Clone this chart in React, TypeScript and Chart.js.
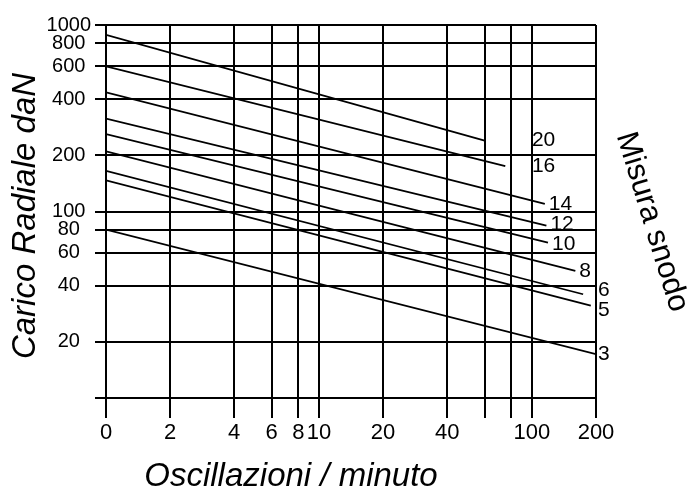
import React, { useEffect, useRef } from 'react';
import { Chart, registerables } from 'chart.js';

Chart.register(...registerables);

// Size of joint (series labels)
const sizeLabels = ['20', '16', '14', '12', '10', '8', '6', '5', '3'];
// Oscillations / minute at start and end of each line
const startOscill = [1, 1, 1, 1, 1, 1, 1, 1, 1];
const endOscill = [60, 75, 115, 117, 119, 160, 174, 189, 200];
// Radial load daN at start and end of each line
const startLoad = [885, 600, 435, 315, 260, 210, 165, 147, 80];
const endLoad = [240, 175, 110, 84, 68, 48, 36, 31.3, 17.2];

const xTickValues = [1, 2, 4, 6, 8, 10, 20, 40, 60, 80, 100, 200];
const xTickLabels = ['0', '2', '4', '6', '8', '10', '20', '40', '', '', '100', '200'];
const yTickValues = [10, 20, 40, 60, 80, 100, 200, 400, 600, 800, 1000];
const yTickLabels = ['', '20', '40', '60', '80', '100', '200', '400', '600', '800', '1000'];

const xTitle = 'Oscillazioni / minuto';
const yTitle = 'Carico Radiale daN';
const seriesTitle = 'Misura snodo';

const FONT = '"Liberation Sans", Arial, sans-serif';

const textPlugin = {
  id: 'nomogramTexts',
  afterDatasetsDraw(chart: any) {
    const { ctx, chartArea, scales } = chart;
    const x100 = scales.x.getPixelForValue(100);
    ctx.save();
    ctx.font = `21px ${FONT}`;
    const items = chart.data.datasets.map((ds: any, i: number) => {
      const meta = chart.getDatasetMeta(i);
      const pt = meta.data[meta.data.length - 1];
      const x = chartArea.right - pt.x < 15 ? chartArea.right + 2 : Math.max(pt.x + 4, x100);
      return { text: ds.label, x, y: pt.y, w: ctx.measureText(ds.label).width };
    });
    const minGap = 20;
    for (let iter = 0; iter < 5; iter++) {
      for (let a = 0; a < items.length; a++) {
        for (let b = a + 1; b < items.length; b++) {
          const A = items[a];
          const B = items[b];
          const overlapX = A.x < B.x + B.w && B.x < A.x + A.w;
          const dy = B.y - A.y;
          if (overlapX && Math.abs(dy) < minGap) {
            const push = (minGap - Math.abs(dy)) / 2;
            const s = dy >= 0 ? 1 : -1;
            A.y -= push * s;
            B.y += push * s;
          }
        }
      }
    }
    ctx.fillStyle = '#000';
    ctx.textAlign = 'left';
    ctx.textBaseline = 'middle';
    items.forEach((it: any) => ctx.fillText(it.text, it.x, it.y));

    // axis titles
    ctx.font = `italic 33px ${FONT}`;
    ctx.textAlign = 'center';
    ctx.textBaseline = 'alphabetic';
    ctx.fillText(xTitle, 291, 486);

    ctx.save();
    ctx.translate(35, 216);
    ctx.rotate(-Math.PI / 2);
    ctx.fillText(yTitle, 0, 0);
    ctx.restore();

    ctx.save();
    ctx.font = `31px ${FONT}`;
    ctx.translate(652, 222);
    ctx.rotate((73 * Math.PI) / 180);
    ctx.textBaseline = 'middle';
    ctx.fillText(seriesTitle, 0, 0);
    ctx.restore();

    ctx.restore();
  },
};

export default function App() {
  const ref = useRef<HTMLCanvasElement | null>(null);

  useEffect(() => {
    if (!ref.current) return;
    const datasets = sizeLabels.map((s, i) => ({
      label: s,
      data: [
        { x: startOscill[i], y: startLoad[i] },
        { x: endOscill[i], y: endLoad[i] },
      ],
      borderColor: '#000',
      backgroundColor: '#000',
      borderWidth: 1.8,
      pointRadius: 0,
      fill: false,
      tension: 0,
    }));

    const chart = new Chart(ref.current, {
      type: 'line',
      data: { datasets },
      options: {
        animation: false,
        responsive: false,
        devicePixelRatio: 1,
        layout: { padding: { left: 0, top: 25, right: 100, bottom: 0 } },
        plugins: {
          legend: { display: false },
          tooltip: { enabled: false },
          title: { display: false },
        },
        scales: {
          x: {
            type: 'logarithmic',
            position: 'bottom',
            min: 1,
            max: 200,
            afterBuildTicks: (scale: any) => {
              scale.ticks = xTickValues.map((v) => ({ value: v }));
            },
            afterFit: (scale: any) => {
              scale.height = 97;
            },
            ticks: {
              autoSkip: false,
              maxRotation: 0,
              color: '#000',
              padding: 2,
              font: { family: FONT, size: 22 },
              callback: (value: any) => {
                const idx = xTickValues.indexOf(Number(value));
                return idx >= 0 ? xTickLabels[idx] : '';
              },
            },
            grid: { color: '#000', lineWidth: 2, tickLength: 20, drawTicks: true },
            border: { color: '#000', width: 2 },
          },
          y: {
            type: 'logarithmic',
            position: 'left',
            min: 10,
            max: 1000,
            afterBuildTicks: (scale: any) => {
              scale.ticks = yTickValues.map((v) => ({ value: v }));
            },
            afterFit: (scale: any) => {
              scale.width = 106;
            },
            ticks: {
              autoSkip: false,
              color: '#000',
              padding: 4,
              crossAlign: 'center',
              font: { family: FONT, size: 20 },
              callback: (value: any) => {
                const idx = yTickValues.indexOf(Number(value));
                return idx >= 0 ? yTickLabels[idx] : '';
              },
            },
            grid: { color: '#000', lineWidth: 2, tickLength: 11, drawTicks: true },
            border: { color: '#000', width: 2 },
          },
        },
      },
      plugins: [textPlugin],
    } as any);

    return () => chart.destroy();
  }, []);

  return (
    <div style={{ position: 'fixed', left: 0, top: 0, width: 696, height: 495, background: '#fff' }}>
      <canvas ref={ref} width={696} height={495} style={{ width: 696, height: 495, display: 'block' }} />
    </div>
  );
}
